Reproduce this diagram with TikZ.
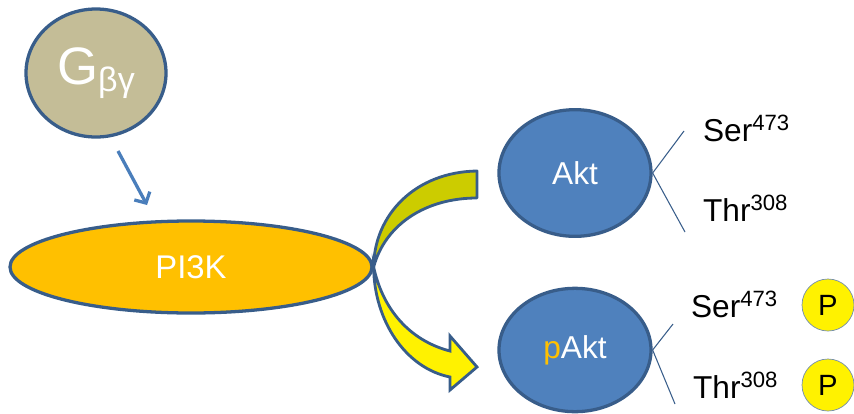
\documentclass[tikz,border=0pt]{standalone}
\usepackage{fontspec}
\setmainfont{Liberation Sans}
\usetikzlibrary{shapes.geometric, arrows.meta}

\definecolor{gtan}{HTML}{C4BD97}
\definecolor{edgeblue}{HTML}{385D8A}
\definecolor{aktblue}{HTML}{4F81BD}
\definecolor{pigold}{HTML}{FFC000}
\definecolor{olive}{HTML}{CCCC00}
\definecolor{arrblue}{HTML}{4A7EBB}

\begin{document}
\begin{tikzpicture}[x=0.03cm, y=-0.03cm]
\tikzstyle{blob}=[draw=edgeblue, line width=2.8pt, ellipse, inner sep=0pt, text=white]
\tikzstyle{site}=[anchor=base west, font=\fontsize{27}{30}\selectfont]
\tikzstyle{phos}=[draw=edgeblue!70, line width=0.6pt, circle, fill=yellow, minimum size=1.56cm, inner sep=0pt, font=\fontsize{25}{27}\selectfont]
\useasboundingbox (0,0) rectangle (854,414);

\node[blob, fill=gtan, minimum width=4.2cm, minimum height=3.84cm] (g) at (96,73)
  {\fontsize{45}{48}\selectfont G\raisebox{-0.25ex}{\fontsize{29}{30}\selectfont βγ}};
\node[blob, fill=pigold, minimum width=10.86cm, minimum height=2.76cm] (pi3k) at (191,267)
  {\fontsize{28}{30}\selectfont PI3K};
\node[blob, fill=aktblue, minimum width=4.56cm, minimum height=3.8cm] (akt) at (575,173)
  {\fontsize{27}{30}\selectfont Akt};
\node[blob, fill=aktblue, minimum width=4.56cm, minimum height=3.7cm] (pakt) at (575,350)
  {\fontsize{27}{30}\selectfont\textcolor{pigold}{p}Akt};

% Gbg -> PI3K
\coordinate (g1) at (118,151);
\coordinate (g2) at (147,205);
\draw[arrblue, line width=2.8pt, -{Straight Barb[length=7pt, width=15pt]}] (g1) -- (g2);

% curved arrows out of PI3K
\filldraw[fill=olive, draw=edgeblue, line width=2.4pt, line join=round]
  (pi3k.east) .. controls (374,215) and (415,172) .. (477,171)
  -- (477,198) .. controls (425,198) and (385,225) .. (pi3k.east) -- cycle;
\filldraw[fill=yellow, draw=edgeblue, line width=2.4pt, line join=miter]
  (pi3k.east) .. controls (374,320) and (405,368) .. (450,377)
  -- (450,390) -- (477,367) -- (450,336) -- (450,351)
  .. controls (415,342) and (384,315) .. (pi3k.east) -- cycle;

% phosphorylation sites
\node[site] (ser1) at (699,141) {Ser\textsuperscript{473}};
\node[site] (thr1) at (699,221) {Thr\textsuperscript{308}};
\node[site] (ser2) at (687,317) {Ser\textsuperscript{473}};
\node[site] (thr2) at (689,398) {Thr\textsuperscript{308}};
\coordinate (s1) at (684,131);
\coordinate (t1) at (685,232);
\coordinate (s2) at (673,324);
\coordinate (t2) at (675,404);
\draw[edgeblue, line width=0.9pt] (s1) -- (akt.east) -- (t1);
\draw[edgeblue, line width=0.9pt] (s2) -- (pakt.east) -- (t2);

\node[phos] (p1) at (828,305) {P};
\node[phos] (p2) at (828,385) {P};

\end{tikzpicture}
\end{document}
